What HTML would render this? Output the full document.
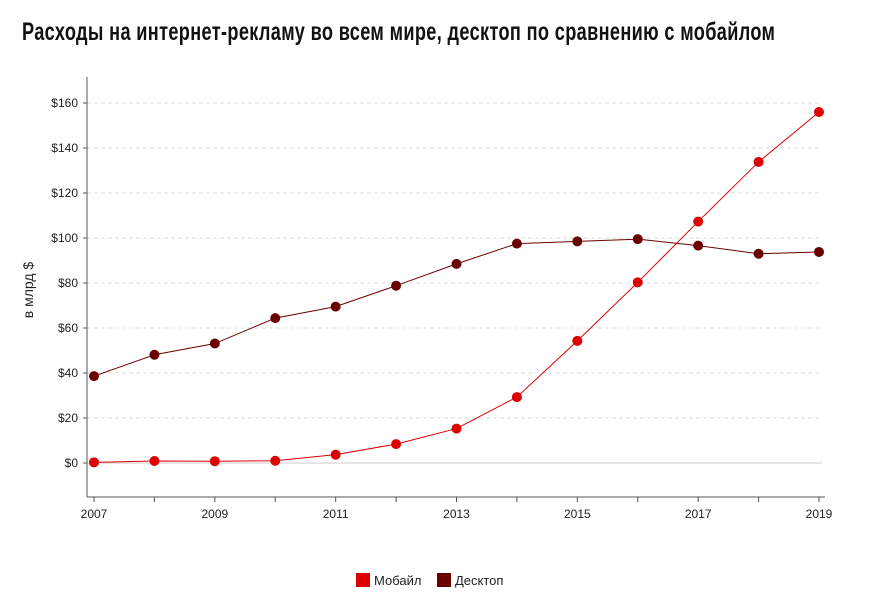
<!DOCTYPE html>
<html><head><meta charset="utf-8"><style>
body{margin:0;background:#fff;width:872px;height:608px;overflow:hidden;font-family:"Liberation Sans",sans-serif}
#title{position:absolute;left:22px;top:18px;font-size:25px;font-weight:bold;color:#111;transform:scaleX(0.725);transform-origin:left top;white-space:nowrap;letter-spacing:0.5px}
</style></head><body>
<div id="title">Расходы на интернет-рекламу во всем мире, десктоп по сравнению с мобайлом</div>
<svg id="chart" width="872" height="608" style="position:absolute;left:0;top:0"></svg>
<script>
const years=[2007,2008,2009,2010,2011,2012,2013,2014,2015,2016,2017,2018,2019];
const mobile=[0.3,0.9,0.8,1.0,3.7,8.4,15.3,29.3,54.3,80.3,107.3,133.8,156.0];
const desktop=[38.6,48.1,53.1,64.4,69.5,78.8,88.5,97.5,98.5,99.5,96.6,93.0,93.8];
const yTicks=[0,20,40,60,80,100,120,140,160];
const xLabels=[2007,2009,2011,2013,2015,2017,2019];
const svg=document.getElementById('chart');const NS='http://www.w3.org/2000/svg';
const x=v=>94+(v-2007)*(819-94)/12;
const y=v=>463-v*2.25;
function mk(t,a,p){const e=document.createElementNS(NS,t);for(const k in a)e.setAttribute(k,a[k]);(p||svg).appendChild(e);return e;}
yTicks.forEach(t=>{
 const g=mk('line',{x1:87,x2:822,y1:y(t),y2:y(t),stroke:t===0?'#ccc':'#ddd','stroke-dasharray':t===0?'':'4,3'});
 
 
 const tl=mk('text',{x:78,y:y(t)+4,'text-anchor':'end','font-size':12,fill:'#222'});tl.textContent='$'+t;
 
 
 mk('line',{x1:83,x2:87,y1:y(t),y2:y(t),stroke:'#555'});
});
const ax=mk('line',{x1:87,x2:87,y1:77,y2:497,stroke:'#555'});


const bx=mk('line',{x1:87,x2:825,y1:497,y2:497,stroke:'#555'});


years.forEach(yr=>mk('line',{x1:x(yr),x2:x(yr),y1:497,y2:502,stroke:'#555'}));
xLabels.forEach(yr=>{const t=mk('text',{x:x(yr),y:518,'text-anchor':'middle','font-size':12,fill:'#222'});t.textContent=yr;
 
 });
const yt=mk('text',{x:33,y:290,'text-anchor':'middle','font-size':14,fill:'#222',transform:'rotate(-90 33 290)'});yt.textContent='в млрд $';


function series(vals,color,name){
 const pl=mk('polyline',{points:vals.map((v,i)=>x(years[i])+','+y(v)).join(' '),fill:'none',stroke:color,'stroke-width':1});
 
 
 vals.forEach((v,i)=>{const c=mk('circle',{cx:x(years[i]),cy:y(v),r:5,fill:color});
  
  });
}
series(desktop,'#6b0000','desktop');
series(mobile,'#dd0000','mobile');
function leg(xp,color,label,name){const g=mk('g',{});
 
 
 mk('rect',{x:xp,y:573,width:14,height:14,fill:color},g);
 const t=mk('text',{x:xp+18,y:585,'font-size':13,fill:'#222'},g);t.textContent=label;}
leg(356,'#dd0000','Мобайл','legend-mobile');
leg(437,'#6b0000','Десктоп','legend-desktop');
</script>
</body></html>
